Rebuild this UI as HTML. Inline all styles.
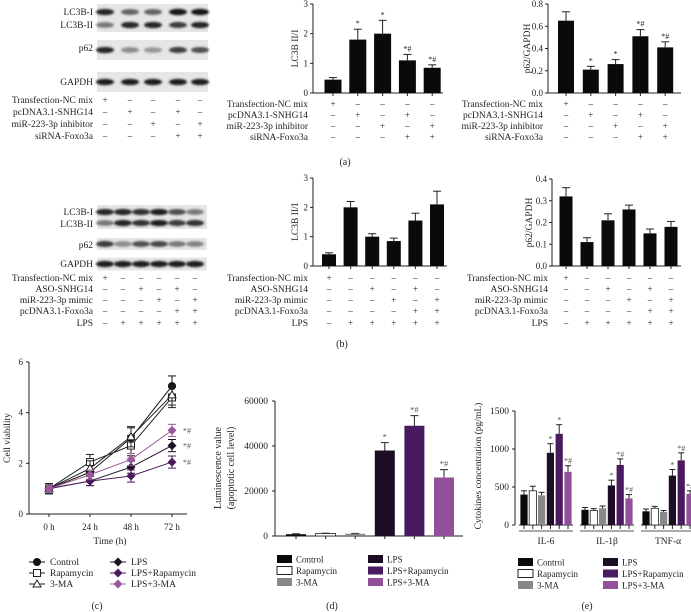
<!DOCTYPE html>
<html><head><meta charset="utf-8"><style>
html,body{margin:0;padding:0;background:#fff;}
svg{display:block;font-family:"Liberation Serif",serif;}
</style></head><body>
<svg id="fig" width="691" height="612" viewBox="0 0 691 612" xmlns="http://www.w3.org/2000/svg">
<defs><filter id="blur" x="-20%" y="-50%" width="140%" height="200%"><feGaussianBlur stdDeviation="1.1"/></filter></defs>
</svg>
<script>
// ---------- data ----------
const aConds = ['Transfection-NC mix','pcDNA3.1-SNHG14','miR-223-3p inhibitor','siRNA-Foxo3a'];
const aSigns = [['+','–','–','–','–'],['–','+','–','+','–'],['–','–','+','–','+'],['–','–','–','+','+']];
const aLc3Values = [0.45,1.8,2.0,1.1,0.85];
const aLc3Err = [0.07,0.35,0.45,0.2,0.1];
const aLc3Marks = ['','*','*','*#','*#'];
const aLc3Ticks = [0,1,2,3];
const aP62Values = [0.65,0.21,0.26,0.51,0.41];
const aP62Err = [0.08,0.03,0.04,0.06,0.05];
const aP62Marks = ['','*','*','*#','*#'];
const aP62Ticks = [0,0.2,0.4,0.6,0.8];
const bConds = ['Transfection-NC mix','ASO-SNHG14','miR-223-3p mimic','pcDNA3.1-Foxo3a','LPS'];
const bSigns = [['+','–','–','–','–','–'],['–','–','+','–','+','–'],['–','–','–','+','–','+'],['–','–','–','–','+','+'],['–','+','+','+','+','+']];
const bLc3Values = [0.4,2.0,1.0,0.85,1.55,2.1];
const bLc3Err = [0.05,0.2,0.1,0.1,0.25,0.45];
const bLc3Ticks = [0,1,2,3];
const bP62Values = [0.32,0.11,0.21,0.26,0.15,0.18];
const bP62Err = [0.04,0.02,0.03,0.02,0.02,0.025];
const bP62Ticks = [0,0.1,0.2,0.3,0.4];
const cTimes = ['0 h','24 h','48 h','72 h'];
const cTicks = [0,2,4,6];
const cControl = [1,1.65,3.0,5.05];
const cRapamycin = [1,2.05,2.7,4.6];
const c3MA = [1,1.8,3.05,4.7];
const cLPS = [1,1.3,1.85,2.7];
const cLPSRap = [1,1.3,1.5,2.05];
const cLPS3MA = [1,1.55,2.15,3.3];
const cErr = [0.2,0.3,0.4,0.4];
const groups = ['Control','Rapamycin','3-MA','LPS','LPS+Rapamycin','LPS+3-MA'];
const dValues = [800,1100,1000,38000,49000,26000];
const dErr = [200,150,150,3500,4500,3500];
const dMarks = ['','','','*','*#','*#'];
const dTicks = [0,20000,40000,60000];
const eCats = ['IL-6','IL-1β','TNF-α'];
const eTicks = [0,500,1000,1500];
const eControl = [400,200,180];
const eRapamycin = [450,190,220];
const e3MA = [390,220,170];
const eLPS = [950,520,650];
const eLPSRap = [1200,790,850];
const eLPS3MA = [700,350,410];
const eErr = [[50,30,30],[60,25,25],[40,30,20],[120,70,80],[120,80,100],[80,50,40]];
const eMarks = [['','',''],['','',''],['','',''],['*','*','*'],['*','*#','*#'],['*#','*#','*#']];
// ---------- helpers ----------
const svg = document.getElementById('fig');
const NS = 'http://www.w3.org/2000/svg';
function mk(tag, attrs, name, parent){
  const el = document.createElementNS(NS, tag);
  for (const k in attrs) el.setAttribute(k, attrs[k]);
  
  
  (parent||svg).appendChild(el);
  return el;
}
function txt(x,y,s,name,opt){
  opt = opt||{};
  const t = mk('text',{x:x,y:y,'font-size':opt.fs||9.5,'text-anchor':opt.anchor||'start',fill:opt.fill||'#222'},name);
  if (opt.rot) t.setAttribute('transform','rotate(-90 '+x+' '+y+')');
  t.textContent = s;
  return t;
}
function line(x1,y1,x2,y2,name,c,w){ return mk('line',{x1:x1,y1:y1,x2:x2,y2:y2,stroke:c||'#222','stroke-width':w||1},name); }
function fmt(v,dec){ return dec? v.toFixed(dec): String(v); }

function barChart(o){
  const ys = v => o.zero - (v/o.max)*(o.zero-o.top);
  const xs = i => o.first + i*o.step;
  line(o.ax,o.top,o.ax,o.zero,o.id+'-y-axis');
  line(o.ax,o.zero,o.end,o.zero,o.id+'-x-axis');
  o.ticks.forEach(t=>{
    line(o.ax-3,ys(t),o.ax,ys(t),o.id+'-y-tick');
    txt(o.ax-5,ys(t)+3,fmt(t,o.dec),o.id+'-y-tick-label',{anchor:'end',fs:9});
  });
  txt(o.ylx,(o.top+o.zero)/2,o.ylabel,o.id+'-y-axis-title',{anchor:'middle',rot:true,fs:9.5});
  o.values.forEach((v,i)=>{
    const x = xs(i), y = ys(v), ye = ys(v+o.err[i]);
    mk('rect',{x:x-o.bw/2,y:y,width:o.bw,height:o.zero-y,fill:'#0a0a0a'},o.id+'-bar');
    line(x,y,x,ye,o.id+'-error-bar');
    line(x-4,ye,x+4,ye,o.id+'-error-cap');
    line(x,o.zero,x,o.zero+3,o.id+'-x-tick');
    if (o.marks && o.marks[i]) txt(x,ye-3,o.marks[i],o.id+'-significance',{anchor:'middle',fs:8});
  });
  o.conds.forEach((c,r)=>{
    txt(o.lx,o.rows[r],c,o.id+'-condition-label',{anchor:'end'});
    o.signs[r].forEach((s,i)=>txt(xs(i),o.rows[r],s,o.id+'-condition-sign',{anchor:'middle',fs:9}));
  });
}
function blot(o){
  o.rows.forEach(r=>{
    mk('rect',{x:o.x0,y:r.y-r.h/2,width:o.x1-o.x0,height:r.h,fill:'#e6e6e6'},o.id+'-blot-background');
    r.intens.forEach((v,i)=>{
      const g = Math.round(220-200*v);
      mk('ellipse',{cx:o.lanes[i],cy:r.y+(r.dy||0),rx:9,ry:2.6+v*0.6,fill:'rgb('+g+','+g+','+g+')',filter:'url(#blur)'},o.id+'-band');
    });
  });
  o.labels.forEach(l=>txt(93,l[1],l[0],o.id+'-protein-label',{anchor:'end'}));
  o.conds.forEach((c,r)=>{
    txt(93,o.crow[r],c,o.id+'-condition-label',{anchor:'end'});
    o.signs[r].forEach((s,i)=>txt(o.lanes[i],o.crow[r],s,o.id+'-condition-sign',{anchor:'middle',fs:9}));
  });
}
// ---------- panel a ----------
blot({id:'a',x0:97,x1:208,lanes:[105,130,153,178,200],
  rows:[{y:18,h:28,intens:[0.9,0.6,0.6,1,1],dy:-6},{y:18,h:0,intens:[0.5,0.9,0.9,0.8,0.9],dy:7},
        {y:50,h:20,intens:[0.9,0.4,0.35,0.8,0.7]},{y:82,h:20,intens:[0.95,0.95,0.95,0.95,0.95]}],
  labels:[['LC3B-I',15],['LC3B-II',28],['p62',51],['GAPDH',85]],
  conds:aConds,signs:aSigns,crow:[103,115,127,139]});
barChart({id:'a-lc3b',ax:313,zero:93,top:4,max:3,end:443,first:333,step:24.8,bw:17,ticks:aLc3Ticks,dec:0,
  values:aLc3Values,err:aLc3Err,marks:aLc3Marks,ylabel:'LC3B II/I',ylx:298,conds:aConds,signs:aSigns,lx:308,rows:[107,118,129,140]});
barChart({id:'a-p62',ax:548,zero:93,top:4,max:0.8,end:681,first:566,step:24.8,bw:16,ticks:aP62Ticks,dec:1,
  values:aP62Values,err:aP62Err,marks:aP62Marks,ylabel:'p62/GAPDH',ylx:530,conds:aConds,signs:aSigns,lx:543,rows:[107,118,129,140]});
txt(345,165,'(a)','panel-a-label',{anchor:'middle',fs:10});
// ---------- panel b ----------
blot({id:'b',x0:97,x1:207,lanes:[105,123,141,159,177,195],
  rows:[{y:217,h:24,intens:[0.9,0.9,0.85,0.95,0.7,0.5],dy:-5},{y:217,h:0,intens:[0.5,0.9,0.85,0.95,0.8,0.85],dy:6},
        {y:244,h:12,intens:[0.8,0.4,0.7,0.75,0.5,0.45]},{y:264,h:13,intens:[0.95,0.95,0.95,0.95,0.95,0.95]}],
  labels:[['LC3B-I',215],['LC3B-II',227],['p62',248],['GAPDH',267]],
  conds:bConds,signs:bSigns,crow:[281,292,303,314,326]});
barChart({id:'b-lc3b',ax:313,zero:266,top:178,max:3,end:447,first:329,step:21.6,bw:14,ticks:bLc3Ticks,dec:0,
  values:bLc3Values,err:bLc3Err,marks:null,ylabel:'LC3B II/I',ylx:298,conds:bConds,signs:bSigns,lx:308,rows:[281,292,303,314,326]});
barChart({id:'b-p62',ax:552,zero:266,top:179,max:0.4,end:681,first:566,step:21,bw:13,ticks:bP62Ticks,dec:1,
  values:bP62Values,err:bP62Err,marks:null,ylabel:'p62/GAPDH',ylx:532,conds:bConds,signs:bSigns,lx:548,rows:[281,292,303,314,326]});
txt(342,347,'(b)','panel-b-label',{anchor:'middle',fs:10});
// ---------- panel c ----------
(function(){
  const xs = i => 49 + i*41;
  const ys = v => 514 - v*(152/6);
  line(29,362,29,514,'c-y-axis'); line(29,514,187,514,'c-x-axis');
  cTicks.forEach(t=>{ line(26,ys(t),29,ys(t),'c-y-tick'); txt(23,ys(t)+3,String(t),'c-y-tick-label',{anchor:'end',fs:9}); });
  cTimes.forEach((t,i)=>{ line(xs(i),514,xs(i),517,'c-x-tick'); txt(xs(i),530,t,'c-x-tick-label',{anchor:'middle',fs:9}); });
  txt(110,544,'Time (h)','c-x-axis-title',{anchor:'middle'});
  txt(10,438,'Cell viability','c-y-axis-title',{anchor:'middle',rot:true});
  const series = [[cControl,'#111','circle','control'],[cRapamycin,'#222','square','rapamycin'],[c3MA,'#222','triangle','3-ma'],
                  [cLPS,'#1c1024','diamond','lps'],[cLPSRap,'#4b1a5c','diamond','lps-rapamycin'],[cLPS3MA,'#9a5a9a','diamond','lps-3-ma']];
  function marker(x,y,kind,c,name){
    if(kind==='circle') mk('circle',{cx:x,cy:y,r:4,fill:c},name);
    else if(kind==='square') mk('rect',{x:x-3.5,y:y-3.5,width:7,height:7,fill:'#fff',stroke:c,'stroke-width':1},name);
    else if(kind==='triangle') mk('path',{d:'M'+x+' '+(y-4)+'L'+(x+4)+' '+(y+3)+'L'+(x-4)+' '+(y+3)+'Z',fill:'#fff',stroke:c},name);
    else mk('path',{d:'M'+x+' '+(y-4.5)+'L'+(x+4.5)+' '+y+'L'+x+' '+(y+4.5)+'L'+(x-4.5)+' '+y+'Z',fill:c},name);
  }
  series.forEach((s,si)=>{
    const vals=s[0];
    mk('polyline',{points:vals.map((v,i)=>xs(i)+','+ys(v)).join(' '),fill:'none',stroke:s[1],'stroke-width':1},'c-line-'+s[3]);
    vals.forEach((v,i)=>{
      const e = cErr[i]*(si>=3?0.6:1);
      line(xs(i),ys(v-e),xs(i),ys(v+e),'c-error-bar',s[1]);
      line(xs(i)-4,ys(v+e),xs(i)+4,ys(v+e),'c-error-cap',s[1]);
      line(xs(i)-4,ys(v-e),xs(i)+4,ys(v-e),'c-error-cap',s[1]);
      marker(xs(i),ys(v),s[2],s[1],'c-point-'+s[3]);
    });
  });
  [cLPS3MA,cLPS,cLPSRap].forEach(v=>txt(183,ys(v[3])+3,'*#','c-significance',{fs:8,fill:'#555'}));
  const leg=[[37,562],[37,573],[37,584],[118,562],[118,573],[118,584]];
  series.forEach((s,i)=>{
    const p=leg[i];
    line(p[0]-8,p[1],p[0]+8,p[1],'c-legend-line',s[1]);
    marker(p[0],p[1],s[2],s[1],'c-legend-marker');
    txt(p[0]+13,p[1]+3,groups[i],'c-legend-entry');
  });
  txt(97,609,'(c)','panel-c-label',{anchor:'middle',fs:10});
})();
// ---------- bar colors ----------
const fills=['#0a0a0a','#fff','#888','#1c0c24','#4a1a5e','#93509a'];
function legend(id,x1,x2,y0){
  groups.forEach((g,i)=>{
    const x = i<3?x1:x2, y = y0 + (i%3)*11.5;
    mk('rect',{x:x,y:y-4,width:15,height:8,fill:fills[i],stroke:'#222','stroke-width':i==1?1:0},id+'-legend-swatch');
    txt(x+19,y+3.5,g,id+'-legend-entry',{fs:9});
  });
}
// ---------- panel d ----------
(function(){
  const zero=536, top=401, max=60000;
  const ys=v=>zero-(v/max)*(zero-top);
  const xs=i=>296+i*29.6;
  line(275,top,275,zero,'d-y-axis'); line(275,zero,463,zero,'d-x-axis');
  dTicks.forEach(t=>{ line(272,ys(t),275,ys(t),'d-y-tick'); txt(268,ys(t)+3,String(t),'d-y-tick-label',{anchor:'end',fs:9.5}); });
  txt(221,468,'Luminescence value','d-y-axis-title',{anchor:'middle',rot:true,fs:10});
  txt(234,468,'(apoptotic cell level)','d-y-axis-title-2',{anchor:'middle',rot:true,fs:10});
  dValues.forEach((v,i)=>{
    const x=xs(i), y=ys(v), ye=ys(v+dErr[i]);
    line(x,y,x,ye,'d-error-bar'); line(x-4,ye,x+4,ye,'d-error-cap');
    mk('rect',{x:x-10,y:y,width:20,height:zero-y,fill:fills[i],stroke:'#222','stroke-width':i==1?0.8:0},'d-bar');
    line(x,zero,x,zero+3,'d-x-tick');
    if(dMarks[i]) txt(x,ye-3,dMarks[i],'d-significance',{anchor:'middle',fs:8.5,fill:'#555'});
  });
  legend('d',277,368,559);
  txt(332,609,'(d)','panel-d-label',{anchor:'middle',fs:10});
})();
// ---------- panel e ----------
(function(){
  const zero=525, top=411, max=1500;
  const ys=v=>zero-(v/max)*(zero-top);
  const xs=(g,i)=>524+g*61+i*8.8;
  const series=[eControl,eRapamycin,e3MA,eLPS,eLPSRap,eLPS3MA];
  line(515,top,515,zero,'e-y-axis');
  eTicks.forEach(t=>{ line(512,ys(t),515,ys(t),'e-y-tick'); txt(509,ys(t)+3,String(t),'e-y-tick-label',{anchor:'end',fs:9.5}); });
  txt(481,466,'Cytokines concentration (pg/mL)','e-y-axis-title',{anchor:'middle',rot:true,fs:9.5});
  eCats.forEach((c,g)=>{
    line(xs(g,0)-5,zero,xs(g,5)+5,zero,'e-x-axis');
    line(xs(g,0)-5,531,xs(g,5)+5,531,'e-group-line','#555');
    txt((xs(g,0)+xs(g,5))/2,544,c,'e-x-tick-label',{anchor:'middle',fs:9.5});
    series.forEach((s,i)=>{
      const x=xs(g,i), y=ys(s[g]), ye=ys(s[g]+eErr[i][g]);
      line(x,y,x,ye,'e-error-bar'); line(x-3,ye,x+3,ye,'e-error-cap');
      mk('rect',{x:x-3.6,y:y,width:7.2,height:zero-y,fill:fills[i],stroke:'#222','stroke-width':i==1?0.8:0},'e-bar');
      line(x,zero,x,zero+4,'e-x-tick');
      if(eMarks[i][g]) txt(x,ye-2,eMarks[i][g],'e-significance',{anchor:'middle',fs:8,fill:'#555'});
    });
  });
  legend('e',518,603,562);
  txt(587,609,'(e)','panel-e-label',{anchor:'middle',fs:10});
})();
</script>
</body></html>
